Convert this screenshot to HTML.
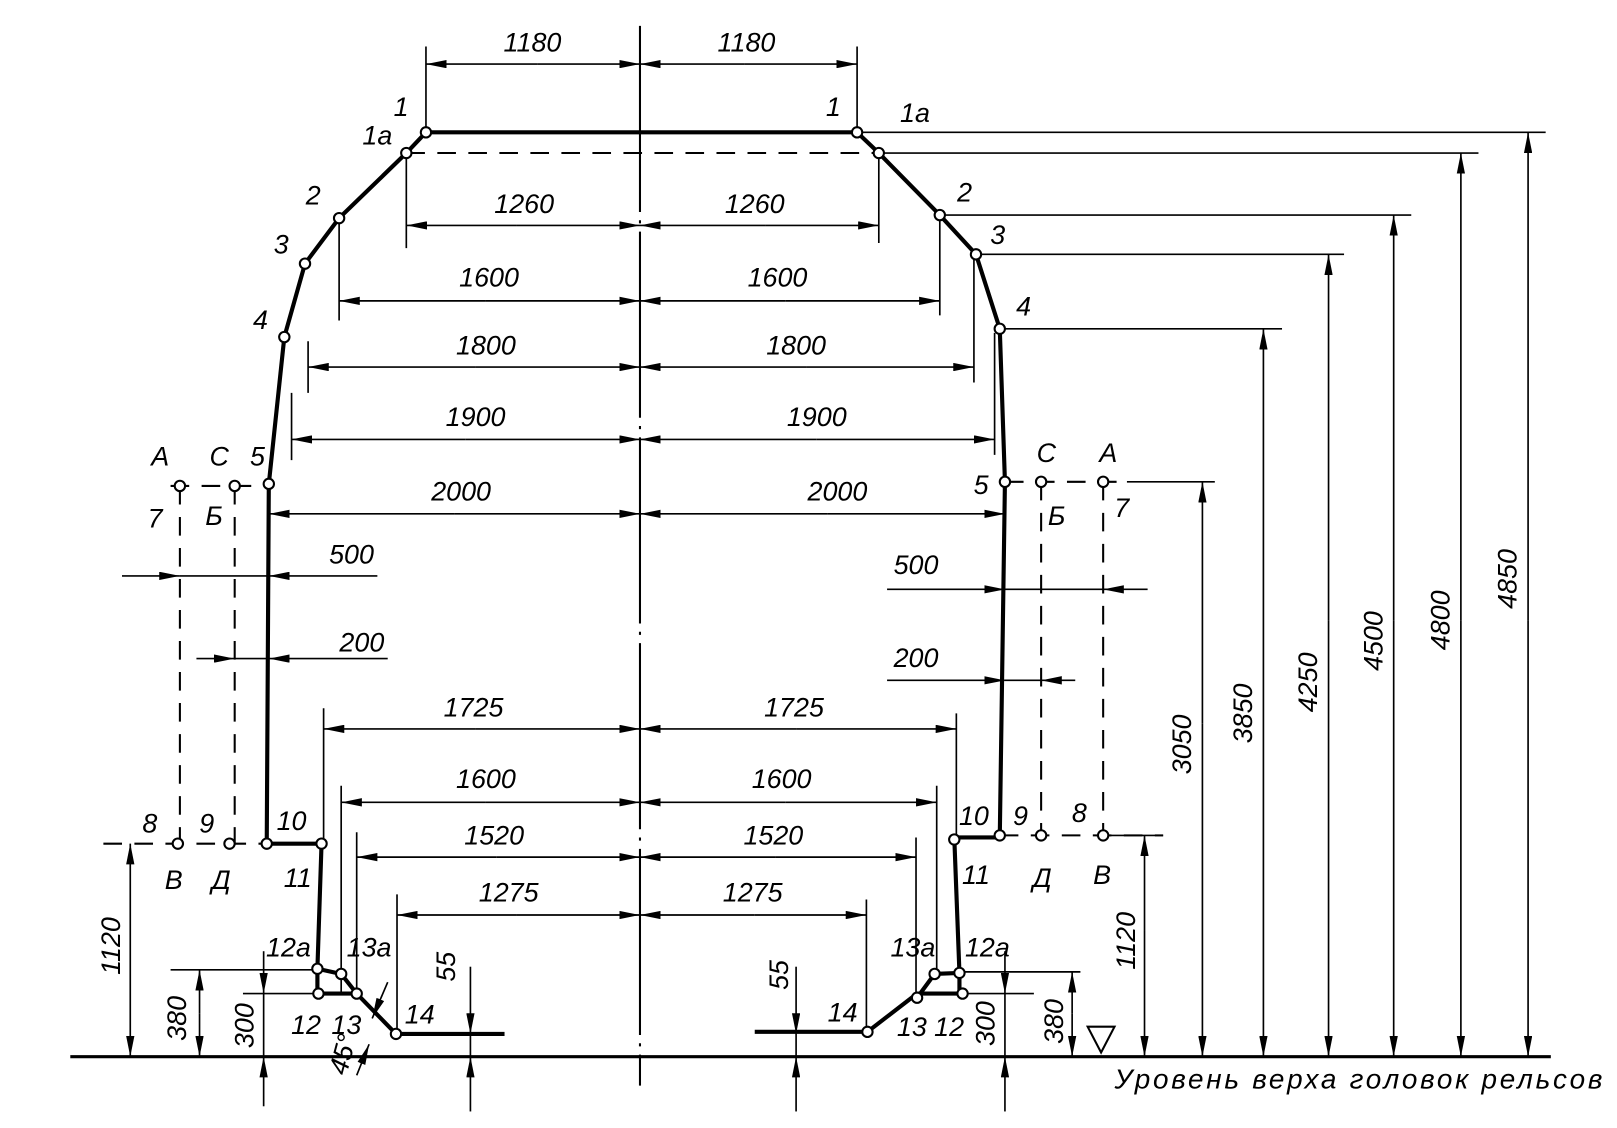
<!DOCTYPE html>
<html><head><meta charset="utf-8"><style>html,body{margin:0;padding:0;background:#fff}svg{display:block}</style></head>
<body>
<svg width="1617" height="1128" viewBox="0 0 1564 1091" preserveAspectRatio="none" xmlns="http://www.w3.org/2000/svg">
<defs>
<marker id="a" viewBox="0 0 20 8" refX="20" refY="4" markerWidth="20" markerHeight="8" markerUnits="userSpaceOnUse" orient="auto"><path d="M0,0 L20,4 L0,8 Z" fill="#000"/></marker>
</defs>
<g stroke="#000" fill="none">
<path d="M619,25 V1050" stroke-width="2" stroke-dasharray="180,8,3,8"/>
<path d="M68,1022 H1500" stroke-width="3"/>
<g stroke-width="4">
<path d="M412,128 H829"/>
<path d="M412,128 L393,148 L328,211 L295,255 L275,326 L260,468 L258,816 H311 L307,937 V961 H345 L383,1000 H488"/>
<path d="M307,937 L330,942 L345,961"/>
<path d="M829,128 L850,148 L909,208 L944,246 L967,318 L972,466 L967,810 H923 L928,941 V961 H887 L839,998 H730"/>
<path d="M928,941 L904,942 L887,965"/>
</g>
<g stroke-width="2" stroke-dasharray="18,12">
<path d="M393,148 H850"/>
<path d="M174,470 V816 M227,470 V816 M1007,466 V808 M1067,466 V808"/>
<path d="M165,470 H260 M972,466 H1090"/>
<path d="M100,816 H258 M967,808 H1125"/>
</g>
<g stroke-width="1.6">
<path d="M412,45 V128 M829,45 V128"/>
<path d="M393,150 V240 M850,150 V235"/>
<path d="M328,215 V310 M909,212 V305"/>
<path d="M298,330 V380 M942,250 V370"/>
<path d="M282,380 V445 M962,322 V440"/>
<path d="M313,685 V816 M925,690 V808"/>
<path d="M330,760 V960 M906,760 V940"/>
<path d="M345,805 V960 M886,810 V965"/>
<path d="M384,865 V1000 M838,870 V998"/>
<path d="M829,128 H1495 M850,148 H1430 M909,208 H1365 M944,246 H1300 M967,318 H1240 M1090,466 H1175 M1060,808 H1125"/>
<path d="M165,938 H307 M235,961 H308 M930,961 H1000 M930,940 H1045"/>
</g>
<g stroke-width="1.6" marker-end="url(#a)">
<path d="M520,62 H412"/><path d="M520,62 H619"/><path d="M720,62 H619"/><path d="M720,62 H829"/>
<path d="M500,218 H393"/><path d="M500,218 H619"/><path d="M740,218 H619"/><path d="M740,218 H850"/>
<path d="M470,291 H328"/><path d="M470,291 H619"/><path d="M760,291 H619"/><path d="M760,291 H909"/>
<path d="M460,355 H298"/><path d="M460,355 H619"/><path d="M780,355 H619"/><path d="M780,355 H942"/>
<path d="M450,425 H282"/><path d="M450,425 H619"/><path d="M790,425 H619"/><path d="M790,425 H962"/>
<path d="M440,497 H260"/><path d="M440,497 H619"/><path d="M800,497 H619"/><path d="M800,497 H972"/>
<path d="M460,705 H313"/><path d="M460,705 H619"/><path d="M770,705 H619"/><path d="M770,705 H925"/>
<path d="M470,776 H330"/><path d="M470,776 H619"/><path d="M760,776 H619"/><path d="M760,776 H906"/>
<path d="M480,829 H345"/><path d="M480,829 H619"/><path d="M750,829 H619"/><path d="M750,829 H886"/>
<path d="M500,885 H384"/><path d="M500,885 H619"/><path d="M730,885 H619"/><path d="M730,885 H838"/>
<path d="M118,557 H174"/><path d="M365,557 H260"/>
<path d="M190,637 H227"/><path d="M375,637 H260"/>
<path d="M858,570 H972"/><path d="M1110,570 H1067"/>
<path d="M858,658 H972"/><path d="M1040,658 H1007"/>
</g>
<path d="M174,557 H260 M227,637 H260 M972,570 H1067 M972,658 H1007" stroke-width="1.6"/>
<g stroke-width="1.6" marker-end="url(#a)">
<path d="M1478,600 V128"/><path d="M1478,600 V1022"/>
<path d="M1413,600 V148"/><path d="M1413,600 V1022"/>
<path d="M1348,600 V208"/><path d="M1348,600 V1022"/>
<path d="M1285,600 V246"/><path d="M1285,600 V1022"/>
<path d="M1222,650 V318"/><path d="M1222,650 V1022"/>
<path d="M1163,700 V466"/><path d="M1163,700 V1022"/>
<path d="M1107,900 V808"/><path d="M1107,900 V1022"/>
<path d="M1037,980 V940"/><path d="M1037,980 V1022"/>
<path d="M126,900 V816"/><path d="M126,900 V1022"/>
<path d="M193,980 V938"/><path d="M193,980 V1022"/>
<path d="M255,920 V961"/><path d="M255,1070 V1022"/>
<path d="M455,935 V1000"/><path d="M455,1075 V1022"/>
<path d="M770,935 V1000"/><path d="M770,1075 V1022"/>
<path d="M972,920 V961"/><path d="M972,1075 V1022"/>
<path d="M375,950 L360,985"/><path d="M345,1040 L357,1010"/>
</g>
<path d="M255,961 V1022 M455,1000 V1022 M770,1000 V1022 M972,961 V1022" stroke-width="1.6"/>
<path d="M1052,993 H1078 L1065,1018 Z" stroke-width="2"/>
</g>
<g fill="#fff" stroke="#000" stroke-width="2">
<circle cx="412" cy="128" r="5"/><circle cx="393" cy="148" r="5"/><circle cx="328" cy="211" r="5"/><circle cx="295" cy="255" r="5"/><circle cx="275" cy="326" r="5"/><circle cx="260" cy="468" r="5"/>
<circle cx="174" cy="470" r="5"/><circle cx="227" cy="470" r="5"/>
<circle cx="172" cy="816" r="5"/><circle cx="222" cy="816" r="5"/><circle cx="258" cy="816" r="5"/><circle cx="311" cy="816" r="5"/>
<circle cx="307" cy="937" r="5"/><circle cx="308" cy="961" r="5"/><circle cx="330" cy="942" r="5"/><circle cx="345" cy="961" r="5"/><circle cx="383" cy="1000" r="5"/>
<circle cx="829" cy="128" r="5"/><circle cx="850" cy="148" r="5"/><circle cx="909" cy="208" r="5"/><circle cx="944" cy="246" r="5"/><circle cx="967" cy="318" r="5"/><circle cx="972" cy="466" r="5"/>
<circle cx="1007" cy="466" r="5"/><circle cx="1067" cy="466" r="5"/>
<circle cx="967" cy="808" r="5"/><circle cx="1007" cy="808" r="5"/><circle cx="1067" cy="808" r="5"/><circle cx="923" cy="812" r="5"/>
<circle cx="928" cy="941" r="5"/><circle cx="931" cy="961" r="5"/><circle cx="904" cy="942" r="5"/><circle cx="887" cy="965" r="5"/><circle cx="839" cy="998" r="5"/>
</g>
<g font-family="Liberation Sans, sans-serif" font-style="italic" font-size="26" text-anchor="middle" fill="#000">
<text x="515" y="50">1180</text><text x="722" y="50">1180</text>
<text x="507" y="206">1260</text><text x="730" y="206">1260</text>
<text x="473" y="277">1600</text><text x="752" y="277">1600</text>
<text x="470" y="343">1800</text><text x="770" y="343">1800</text>
<text x="460" y="412">1900</text><text x="790" y="412">1900</text>
<text x="446" y="484">2000</text><text x="810" y="484">2000</text>
<text x="458" y="693">1725</text><text x="768" y="693">1725</text>
<text x="470" y="762">1600</text><text x="756" y="762">1600</text>
<text x="478" y="817">1520</text><text x="748" y="817">1520</text>
<text x="492" y="872">1275</text><text x="728" y="872">1275</text>
<text x="340" y="545">500</text><text x="350" y="630">200</text>
<text x="886" y="555">500</text><text x="886" y="645">200</text>
<text x="388" y="112">1</text><text x="806" y="112">1</text>
<text x="365" y="140">1a</text><text x="885" y="118">1a</text>
<text x="303" y="198">2</text><text x="933" y="195">2</text>
<text x="272" y="245">3</text><text x="965" y="236">3</text>
<text x="252" y="318">4</text><text x="990" y="305">4</text>
<text x="249" y="450">5</text><text x="949" y="478">5</text>
<text x="155" y="450">A</text><text x="212" y="450">C</text>
<text x="1012" y="447">C</text><text x="1072" y="447">A</text>
<text x="150" y="510">7</text><text x="207" y="508">Б</text>
<text x="1022" y="508">Б</text><text x="1085" y="500">7</text>
<text x="145" y="805">8</text><text x="200" y="805">9</text><text x="282" y="803">10</text>
<text x="168" y="860">В</text><text x="214" y="860">Д</text><text x="288" y="858">11</text>
<text x="942" y="798">10</text><text x="987" y="798">9</text><text x="1044" y="795">8</text>
<text x="944" y="855">11</text><text x="1008" y="858">Д</text><text x="1066" y="855">В</text>
<text x="279" y="925">12a</text><text x="357" y="925">13a</text>
<text x="296" y="1000">12</text><text x="335" y="1000">13</text><text x="406" y="990">14</text>
<text x="883" y="925">13a</text><text x="955" y="925">12a</text>
<text x="882" y="1002">13</text><text x="918" y="1002">12</text><text x="815" y="988">14</text>
<text x="1078" y="1053" text-anchor="start" font-size="27" textLength="472" lengthAdjust="spacing">Уровень  верха  головок  рельсов</text>
</g>
<g font-family="Liberation Sans, sans-serif" font-style="italic" font-size="26" text-anchor="middle" fill="#000">
<text transform="translate(1467,560) rotate(-90)">4850</text>
<text transform="translate(1402,600) rotate(-90)">4800</text>
<text transform="translate(1337,620) rotate(-90)">4500</text>
<text transform="translate(1274,660) rotate(-90)">4250</text>
<text transform="translate(1211,690) rotate(-90)">3850</text>
<text transform="translate(1152,720) rotate(-90)">3050</text>
<text transform="translate(1098,910) rotate(-90)">1120</text>
<text transform="translate(1028,988) rotate(-90)">380</text>
<text transform="translate(962,990) rotate(-90)">300</text>
<text transform="translate(116,915) rotate(-90)">1120</text>
<text transform="translate(180,985) rotate(-90)">380</text>
<text transform="translate(245,992) rotate(-90)">300</text>
<text transform="translate(440,935) rotate(-90)">55</text>
<text transform="translate(762,943) rotate(-90)">55</text>
<text transform="translate(340,1022) rotate(-75)">45°</text>
</g>
</svg>
</body></html>
